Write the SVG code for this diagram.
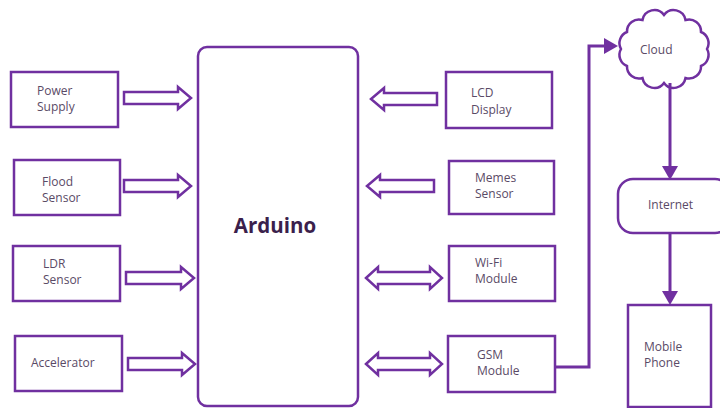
<svg xmlns="http://www.w3.org/2000/svg" width="720" height="408" viewBox="0 0 720 408">
<style>
.box{fill:#fff;stroke:#7030a0;stroke-width:2.5}
.arr{fill:#fff;stroke:#7030a0;stroke-width:2.5;stroke-linejoin:miter}
.ln{fill:none;stroke:#7030a0;stroke-width:3}
.hd{fill:#7030a0;stroke:none}
.t{font-family:"Open Sans","Liberation Sans",sans-serif;font-size:12px;fill:#5a4a66}
.big{font-family:"Open Sans","Liberation Sans",sans-serif;font-size:20.5px;font-weight:bold;fill:#3b1f4c}
</style>
<rect width="720" height="408" fill="#fff"/>
<g id="arduino"><rect class="box" x="198" y="47" width="160" height="359" rx="9"/><text class="big" x="275" y="233" text-anchor="middle">Arduino</text></g>
<g id="power"><rect class="box" x="11" y="72" width="107" height="55"/><text class="t" x="37" y="95">Power</text><text class="t" x="37" y="111">Supply</text></g>
<g id="flood"><rect class="box" x="14" y="160" width="106" height="55"/><text class="t" x="42" y="186">Flood</text><text class="t" x="42" y="202">Sensor</text></g>
<g id="ldr"><rect class="box" x="13" y="246" width="107" height="55"/><text class="t" x="43" y="268">LDR</text><text class="t" x="43" y="284">Sensor</text></g>
<g id="accel"><rect class="box" x="15" y="336" width="107" height="55"/><text class="t" x="31" y="367">Accelerator</text></g>
<g id="lcd"><rect class="box" x="446" y="72" width="106" height="56"/><text class="t" x="471" y="97">LCD</text><text class="t" x="471" y="114">Display</text></g>
<g id="memes"><rect class="box" x="449" y="161" width="105" height="53"/><text class="t" x="475" y="182">Memes</text><text class="t" x="475" y="198">Sensor</text></g>
<g id="wifi"><rect class="box" x="449" y="246" width="106" height="55"/><text class="t" x="475" y="267">Wi-Fi</text><text class="t" x="475" y="283">Module</text></g>
<g id="gsm"><rect class="box" x="448" y="336" width="107" height="56"/><text class="t" x="477" y="359">GSM</text><text class="t" x="477" y="375">Module</text></g>
<g id="cloud"><path class="box" d="M707,49 A12,12 0 0 1 701,66 A12,12 0 0 1 685.5,78 A12,12 0 0 1 664,83 A12,12 0 0 1 642.5,78 A12,12 0 0 1 627,66 A12,12 0 0 1 621,49 A12,12 0 0 1 627,32 A12,12 0 0 1 642.5,20 A12,12 0 0 1 664,15 A12,12 0 0 1 685.5,20 A12,12 0 0 1 701,32 A12,12 0 0 1 707,49 Z"/><text class="t" x="640" y="54">Cloud</text></g>
<g id="internet"><rect class="box" x="618" y="179" width="112" height="54" rx="15"/><text class="t" x="648" y="209">Internet</text></g>
<g id="mobile"><rect class="box" x="628" y="305" width="83" height="102"/><text class="t" x="644" y="351">Mobile</text><text class="t" x="644" y="367">Phone</text></g>
<g id="connectors">
<polygon class="arr" points="124,92 178,92 178,87 191,98 178,109 178,104 124,104"/>
<polygon class="arr" points="124,180 178,180 178,175 191,186 178,197 178,192 124,192"/>
<polygon class="arr" points="126,272 181,272 181,267 194,278 181,289 181,284 126,284"/>
<polygon class="arr" points="128,358 182,358 182,353 195,364 182,375 182,370 128,370"/>
<polygon class="arr" points="437,93 384,93 384,88 371,99 384,110 384,105 437,105"/>
<polygon class="arr" points="434,180 380,180 380,175 367,186 380,197 380,192 434,192"/>
<polygon class="arr" points="366,278 378,267 378,272 430,272 430,267 442,278 430,289 430,284 378,284 378,289"/>
<polygon class="arr" points="366,364 378,353 378,358 430,358 430,353 442,364 430,375 430,370 378,370 378,375"/>
<polyline class="ln" points="555,367 589,367 589,46 605,46"/>
<polygon class="hd" points="604,38 618,46 604,54"/>
<line class="ln" x1="670" y1="83" x2="670" y2="167"/>
<polygon class="hd" points="662,166 678,166 670,180"/>
<line class="ln" x1="670" y1="233" x2="670" y2="292"/>
<polygon class="hd" points="662,291 678,291 670,305"/>
</g>
</svg>
